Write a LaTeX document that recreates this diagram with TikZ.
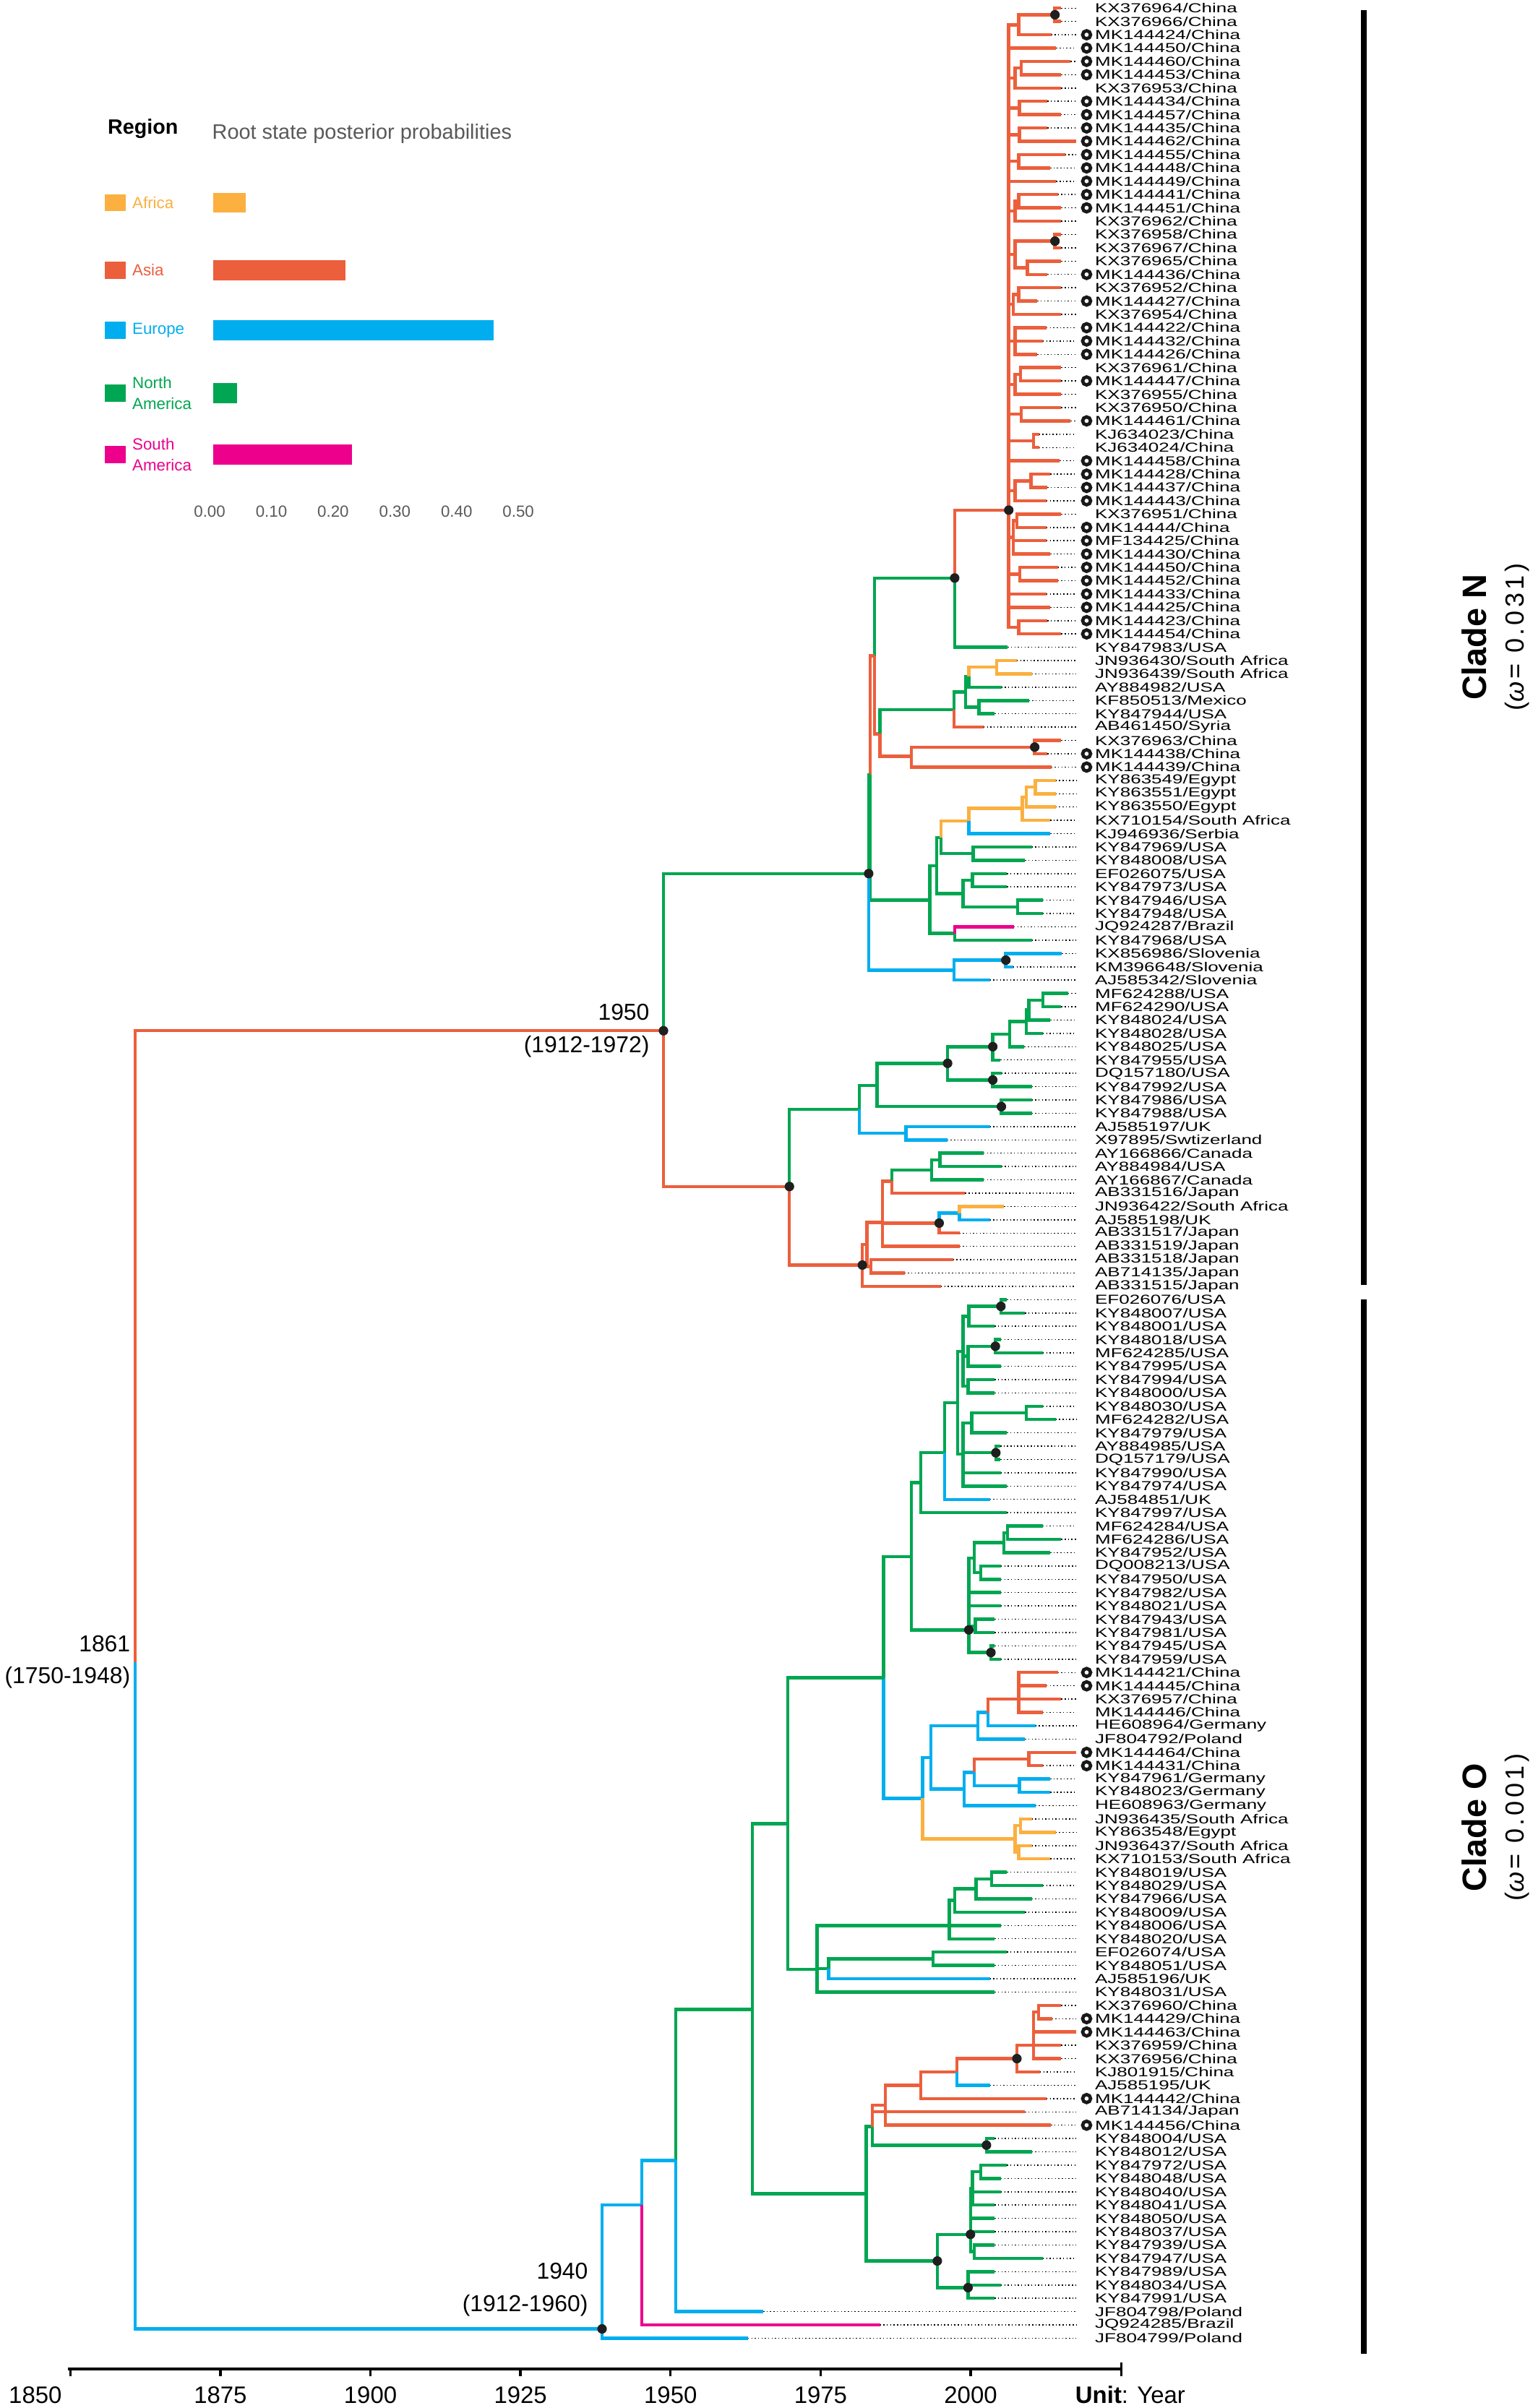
\documentclass[tikz,border=0pt]{standalone}
\usepackage{fontspec}
\usepackage{graphicx}
\setmainfont{Liberation Sans}
\usetikzlibrary{positioning}

\definecolor{asia}{RGB}{236,95,60}
\definecolor{namer}{RGB}{0,166,81}
\definecolor{europe}{RGB}{0,174,239}
\definecolor{africa}{RGB}{251,176,64}
\definecolor{samer}{RGB}{236,0,140}

\newcommand{\leaftext}[1]{\scalebox{1.44}[1]{#1}}

\tikzset{
  branch/.style={line width=2.1pt},
  leader/.style={line width=0.7pt, dash pattern=on 0.7pt off 1.5pt},
  nodedot/.style={circle, fill=black!88, inner sep=0pt, minimum size=6.2pt},
  ring/.style={circle, draw=black!90, fill=white, line width=2.2pt, inner sep=0pt, minimum size=5.2pt},
  leaflabel/.style={anchor=west, inner sep=0pt, font=\fontsize{8.5}{8.5}\selectfont},
  datelbl/.style={align=right, inner sep=0pt, font=\fontsize{15}{21}\selectfont},
  yearlbl/.style={inner sep=0pt, font=\fontsize{15.5}{18}\selectfont},
  omegalbl/.style={rotate=90, inner sep=0pt, font=\addfontfeature{LetterSpace=12}\fontsize{17}{19}\selectfont},
}

\begin{document}
\begin{tikzpicture}[x=1pt, y=-1pt]
\fill[white] (0,0) rectangle (1001,1568);
\useasboundingbox (0,0) rectangle (1001,1568);

% ---------- legend ----------
\node[anchor=west, inner sep=0pt, font=\bfseries\fontsize{13.5}{16}\selectfont] (regionTitle) at (70,84) {Region};
\node[anchor=west, inner sep=0pt, text=black!65, font=\fontsize{13.6}{15}\selectfont] (probTitle) at (138,87) {Root state posterior probabilities};
\foreach \yy/\col/\val/\txt in {132/africa/0.058/Africa, 176/asia/0.22/Asia, 215/europe/0.46/Europe,
    256/namer/0.044/North\\America, 296/samer/0.23/South\\America}{
  \fill[\col] (68,\yy-5.5) rectangle (82,\yy+5.5);
  \node[anchor=west, inner sep=0pt, text=\col, align=left, font=\fontsize{10.5}{14}\selectfont] at (86,\yy) {\txt};
  \fill[\col] (139,\yy-6.5) rectangle ({136.5+\val*402},\yy+6.5);
}
\foreach \v/\lab in {0/0.00, 1/0.10, 2/0.20, 3/0.30, 4/0.40, 5/0.50}
  \node[inner sep=0pt, text=black!65, font=\fontsize{10.5}{12}\selectfont] at ({136.5+\v*40.2},333) {\lab};

% ---------- tree ----------
\begin{scope}[y=-8.67pt, yshift=3.37pt]
% internal nodes (x, row)
\foreach \nm/\xx/\rw in {
  a/686.9/1.5, b/663.3/2.25, d/665/5.5, e/660.9/6.25, f/663.8/8.5, g/663.8/10.5,
  h/663.3/12.5, i/663.3/15.5, j/660.9/16.25, k1/686.9/18.5, k2/668.9/20.5, k/660.9/19.5,
  m1/663.3/22.5, m/659.7/23.25, n/660.9/26, o1/664.5/28.5, o/660.9/29.25, p/665/31.5,
  c33/673/33.5, q1/671.3/36.5, q/660.9/37.25, s1/662/39.5, s/659.7/40.75, c43/664/43.5,
  c47/663.3/47.5, As/656.8/38.7, N1/621.6/43.8, W/569.3/49.65, N3/572.9/55.5,
  Gn/621.1/53.7, g1/628.8/52.35, g2/630.8/51.2, g4/648.9/50.5, g3/637.5/53.5,
  Rd/593.4/57.2, rd1/673.7/56.5, Z/566.5/58.6, N2/565.6/66, G/605.4/68,
  V2/609.8/65.4, V1/612.7/63.3, O4/630.8/62.05, O3/665.7/61.1, O2/668.2/60.25,
  O1/674.2/59.5, v64/633.7/64.5, V3/627.1/67.5, v66/633.2/66.5, v68/662.6/68.5,
  V4/621.6/70.5, B/621.1/73.25, b72/654.9/72.5,
  n1950/432/77.8, N5/514/89.5, K1/559.6/83.7, K2/571/81.9, K3/617/80.25, K5/646.4/79,
  K7/657.3/78.05, K8/668.2/77.1, K8a/669.8/76.25, K8b/679/75.5, K6/646.4/81.5,
  K4/652/83.5, K9/589.8/85.5, R1/561.5/95.4, E0/564.4/93.85, E1/574.5/92.2,
  F1/580.6/89.1, F2/606.6/88.25, F3/612/87.5, D1/611.5/92.25, D2/624.7/91.5, R3/567/95.5,
  Pa/630.8/99.25, pa1/651.7/98.5, Pb/630.3/102.25, pb1/648.1/101.5, Pc/630.3/104.5,
  P1/627.1/101.9, Pd/632.7/107.25, pd1/668.2/106.5, Pe/648.4/109.5, P3/627.1/109.6,
  Q2/623.5/105.75, Q1/615.1/109.5, Q3/599.4/111.75, Q5/630.8/122.8, Q6/630.8/121.1,
  q117/634.4/117.4, q116/653.7/116.25, q115/656.1/115.5, q118/638.7/118.5,
  q122/635.1/122.5, q124/645.2/124.5, Q4/593.4/117.3, Q7/575.3/126.4,
  Bl/600.6/135.45, bl1/606.2/132.4, bl2/636.8/130, bl4/643.3/129, Rz/663.3/128,
  bl3/627.8/134.75, bl5/634.4/133.5, bl6/669.8/132.5, bl7/663.8/134.5,
  Or/660.9/138.5, or1/664.5/137.5, or2/663.3/139.5, Q8/513/137.35, T1/531.9/148.3,
  S2/618.2/145, S1/621.6/143.1, s142/635.6/142.25, s141/645.7/141.5,
  N92/539.6/148.25, n147/607.4/147.5, U7/564/165.15, U8/568/160.1, U6/568/158.75,
  U5/576.5/158.5, U4/599.4/157, U3/623/156, U2/662.1/155, U1/673/154, u151/676.1/151.5,
  u161/642.3/161.5, X0/610.3/170.2, X1/631.9/168.2, X3/633.2/164.75, x163/638.7/163.5,
  x169/634.4/169.5, X2/630.3/172.2, Q10/490/151.3, Q11/440/162.65, Q12/418/166,
  n1940/392/175.3, root/88/125.2}
  \coordinate (\nm) at (\xx,\rw);

% branches between internal nodes
\foreach \pa/\ch/\col in {
  root/n1950/asia, root/n1940/europe,
  b/a/asia, As/b/asia, As/e/asia, As/f/asia, As/g/asia, As/h/asia, As/j/asia, As/k/asia,
  As/m/asia, As/n/asia, As/o/asia, As/p/asia, As/c33/asia, As/q/asia, As/s/asia,
  As/c43/asia, As/c47/asia, e/d/asia, j/i/asia, k/k1/asia, k/k2/asia, m/m1/asia,
  o/o1/asia, q/q1/asia, s/s1/asia,
  N1/As/asia, W/N1/namer, W/N3/asia, N3/Gn/namer, N3/Rd/asia, Gn/g1/namer,
  g1/g2/namer, g1/g3/namer, g2/g4/africa, Rd/rd1/asia, Z/W/asia, Z/G/namer,
  N2/Z/namer, N2/B/europe, G/V2/namer, G/V4/namer, V2/V1/namer, V2/V3/namer,
  V1/O4/africa, V1/v64/namer, O4/O3/africa, O3/O2/africa, O2/O1/africa,
  V3/v66/namer, V3/v68/namer, B/b72/europe,
  n1950/N2/namer, n1950/N5/asia, N5/K1/namer, N5/R1/asia, K1/K2/namer, K1/K9/europe,
  K2/K3/namer, K2/K4/namer, K3/K5/namer, K3/K6/namer, K5/K7/namer, K7/K8/namer,
  K8/K8a/namer, K8a/K8b/namer, R1/E0/asia, E0/E1/asia, E0/R3/asia, E1/F1/asia,
  E1/D1/asia, F1/F2/namer, F2/F3/namer, D1/D2/europe,
  Pa/pa1/namer, Pb/pb1/namer, P1/Pa/namer, P1/Pb/namer, P1/Pc/namer, Pd/pd1/namer,
  P3/Pd/namer, P3/Pe/namer, Q2/P1/namer, Q2/P3/namer, Q1/Q2/namer, Q3/Q1/namer,
  Q4/Q3/namer, Q4/Q5/namer, Q5/Q6/namer, Q5/q124/namer, Q6/q117/namer, Q6/q122/namer,
  q117/q116/namer, q117/q118/namer, q116/q115/namer, Q7/Q4/namer, Q7/Bl/europe,
  Bl/bl1/europe, Bl/Or/africa, bl1/bl2/europe, bl1/bl3/europe, bl2/bl4/europe,
  bl4/Rz/asia, bl3/bl5/europe, bl5/bl6/asia, bl5/bl7/europe, Or/or1/africa,
  Or/or2/africa, Q8/Q7/namer, Q8/T1/namer, T1/S2/namer, T1/N92/namer, S2/S1/namer,
  S1/s142/namer, s142/s141/namer, N92/n147/namer, U7/U8/namer, U7/X0/namer,
  U8/U6/asia, U8/u161/namer, U6/U5/asia, U5/U4/asia, U4/U3/asia, U3/U2/asia,
  U2/U1/asia, U1/u151/asia, X0/X1/namer, X0/X2/namer, X1/X3/namer, X1/x169/namer,
  X3/x163/namer, Q10/Q8/namer, Q10/U7/namer, Q11/Q10/namer, Q12/Q11/europe,
  n1940/Q12/europe}
  \draw[branch, \col] (\pa) |- (\ch);

% tips: row / tip x / parent / colour / accession / country / marked
\foreach \rw/\tip/\pa/\col/\acc/\cty/\mk in {
  1/691/a/asia/KX376964/China/0, 2/691/a/asia/KX376966/China/0,
  3/684.5/b/asia/MK144424/China/1, 4/687.7/As/asia/MK144450/China/1,
  5/697.1/d/asia/MK144460/China/1, 6/691/d/asia/MK144453/China/1,
  7/691/e/asia/KX376953/China/0, 8/682/f/asia/MK144434/China/1,
  9/690.6/f/asia/MK144457/China/1, 10/682/g/asia/MK144435/China/1,
  11/700.7/g/asia/MK144462/China/1, 12/693.5/h/asia/MK144455/China/1,
  13/683.8/h/asia/MK144448/China/1, 14/687.7/As/asia/MK144449/China/1,
  15/688.7/i/asia/MK144441/China/1, 16/691/i/asia/MK144451/China/1,
  17/691/j/asia/KX376962/China/0, 18/691/k1/asia/KX376958/China/0,
  19/691/k1/asia/KX376967/China/0, 20/691/k2/asia/KX376965/China/0,
  21/682/k2/asia/MK144436/China/1, 22/691/m1/asia/KX376952/China/0,
  23/675.4/m1/asia/MK144427/China/1, 24/691/m/asia/KX376954/China/0,
  25/681.4/n/asia/MK144422/China/1, 26/679/n/asia/MK144432/China/1,
  27/675.4/n/asia/MK144426/China/1, 28/691/o1/asia/KX376961/China/0,
  29/691/o1/asia/MK144447/China/1, 30/691/o/asia/KX376955/China/0,
  31/691/p/asia/KX376950/China/0, 32/697.1/p/asia/MK144461/China/1,
  33/676.6/c33/asia/KJ634023/China/0, 34/676.6/c33/asia/KJ634024/China/0,
  35/689.9/As/asia/MK144458/China/1, 36/683.8/q1/asia/MK144428/China/1,
  37/682/q1/asia/MK144437/China/1, 38/681.4/q/asia/MK144443/China/1,
  39/691/s1/asia/KX376951/China/0, 40/681.4/s1/asia/MK14444/China/1,
  41/681.4/s/asia/MF134425/China/1, 42/683.8/s/asia/MK144430/China/1,
  43/688.7/c43/asia/MK144450/China/1, 44/688.7/c43/asia/MK144452/China/1,
  45/681.4/As/asia/MK144433/China/1, 46/683.8/As/asia/MK144425/China/1,
  47/682/c47/asia/MK144423/China/1, 48/691/c47/asia/MK144454/China/1,
  49/656.1/N1/namer/KY847983/USA/0, 50/662.1/g4/africa/JN936430/South Africa/0,
  51/671.8/g4/africa/JN936439/South Africa/0, 52/652/g2/namer/AY884982/USA/0,
  53/669.9/g3/namer/KF850513/Mexico/0, 54/647.6/g3/namer/KY847944/USA/0,
  55/640.4/Gn/asia/AB461450/Syria/0, 56/691/rd1/asia/KX376963/China/0,
  57/682/rd1/asia/MK144438/China/1, 58/684.5/Rd/asia/MK144439/China/1,
  59/687.4/O1/africa/KY863549/Egypt/0, 60/687.4/O1/africa/KY863551/Egypt/0,
  61/687.4/O2/africa/KY863550/Egypt/0, 62/683.8/O3/africa/KX710154/South Africa/0,
  63/683.8/O4/europe/KJ946936/Serbia/0, 64/671.8/v64/namer/KY847969/USA/0,
  65/667.4/v64/namer/KY848008/USA/0, 66/655.6/v66/namer/EF026075/USA/0,
  67/655.6/v66/namer/KY847973/USA/0, 68/679/v68/namer/KY847946/USA/0,
  69/679/v68/namer/KY847948/USA/0, 70/660.2/V4/samer/JQ924287/Brazil/0,
  71/671.8/V4/namer/KY847968/USA/0, 72/691.5/b72/europe/KX856986/Slovenia/0,
  73/659.7/b72/europe/KM396648/Slovenia/0, 74/644.5/B/europe/AJ585342/Slovenia/0,
  75/695.4/K8b/namer/MF624288/USA/0, 76/691/K8b/namer/MF624290/USA/0,
  77/683.8/K8a/namer/KY848024/USA/0, 78/679/K8/namer/KY848028/USA/0,
  79/667/K7/namer/KY848025/USA/0, 80/651.3/K5/namer/KY847955/USA/0,
  81/652/K6/namer/DQ157180/USA/0, 82/671.8/K6/namer/KY847992/USA/0,
  83/671.8/K4/namer/KY847986/USA/0, 84/671.8/K4/namer/KY847988/USA/0,
  85/644.5/K9/europe/AJ585197/UK/0, 86/616.8/K9/europe/X97895/Swtizerland/0,
  87/640.4/F3/namer/AY166866/Canada/0, 88/652/F3/namer/AY884984/USA/0,
  89/640.4/F2/namer/AY166867/Canada/0, 90/628.4/F1/asia/AB331516/Japan/0,
  91/653.7/D2/africa/JN936422/South Africa/0, 92/644.5/D2/europe/AJ585198/UK/0,
  93/624.7/D1/asia/AB331517/Japan/0, 94/624.7/E1/asia/AB331519/Japan/0,
  95/620.6/R3/asia/AB331518/Japan/0, 96/589/R3/asia/AB714135/Japan/0,
  97/612.7/R1/asia/AB331515/Japan/0,
  98/655.6/pa1/namer/EF026076/USA/0, 99/667.4/pa1/namer/KY848007/USA/0,
  100/647.6/Pa/namer/KY848001/USA/0, 101/651.7/pb1/namer/KY848018/USA/0,
  102/679/pb1/namer/MF624285/USA/0, 103/651.7/Pb/namer/KY847995/USA/0,
  104/647.6/Pc/namer/KY847994/USA/0, 105/647.6/Pc/namer/KY848000/USA/0,
  106/679/pd1/namer/KY848030/USA/0, 107/687.4/pd1/namer/MF624282/USA/0,
  108/655.6/Pd/namer/KY847979/USA/0, 109/651.3/Pe/namer/AY884985/USA/0,
  110/651.3/Pe/namer/DQ157179/USA/0, 111/651.7/P3/namer/KY847990/USA/0,
  112/655.6/P3/namer/KY847974/USA/0, 113/644.5/Q1/europe/AJ584851/UK/0,
  114/655.6/Q3/namer/KY847997/USA/0, 115/679/q115/namer/MF624284/USA/0,
  116/691/q115/namer/MF624286/USA/0, 117/683.8/q116/namer/KY847952/USA/0,
  118/651.7/q118/namer/DQ008213/USA/0, 119/651.7/q118/namer/KY847950/USA/0,
  120/651.7/Q6/namer/KY847982/USA/0, 121/651.7/Q6/namer/KY848021/USA/0,
  122/647.6/q122/namer/KY847943/USA/0, 123/647.6/q122/namer/KY847981/USA/0,
  124/647.6/q124/namer/KY847945/USA/0, 125/651.7/q124/namer/KY847959/USA/0,
  126/688.7/Rz/asia/MK144421/China/1, 127/681.4/Rz/asia/MK144445/China/1,
  128/691/Rz/asia/KX376957/China/0, 129/679/Rz/asia/MK144446/China/0,
  130/674.2/bl4/europe/HE608964/Germany/0, 131/667.4/bl2/europe/JF804792/Poland/0,
  132/700.7/bl6/asia/MK144464/China/1, 133/679/bl6/asia/MK144431/China/1,
  134/683.8/bl7/europe/KY847961/Germany/0, 135/683.8/bl7/europe/KY848023/Germany/0,
  136/674.2/bl3/europe/HE608963/Germany/0, 137/671.8/or1/africa/JN936435/South Africa/0,
  138/687.4/or1/africa/KY863548/Egypt/0, 139/671.8/or2/africa/JN936437/South Africa/0,
  140/683.8/or2/africa/KX710153/South Africa/0, 141/655.6/s141/namer/KY848019/USA/0,
  142/679/s141/namer/KY848029/USA/0, 143/671.8/s142/namer/KY847966/USA/0,
  144/667.4/S1/namer/KY848009/USA/0, 145/651.7/S2/namer/KY848006/USA/0,
  146/647.6/S2/namer/KY848020/USA/0, 147/655.6/n147/namer/EF026074/USA/0,
  148/647.6/n147/namer/KY848051/USA/0, 149/644.5/N92/europe/AJ585196/UK/0,
  150/647.6/T1/namer/KY848031/USA/0, 151/691/u151/asia/KX376960/China/0,
  152/685/u151/asia/MK144429/China/1, 153/700.7/U1/asia/MK144463/China/1,
  154/691/U1/asia/KX376959/China/0, 155/691/U1/asia/KX376956/China/0,
  156/677.1/U2/asia/KJ801915/China/0, 157/644.5/U3/europe/AJ585195/UK/0,
  158/681.4/U4/asia/MK144442/China/1, 159/667.4/U6/asia/AB714134/Japan/0,
  160/684.3/U5/asia/MK144456/China/1, 161/647.6/u161/namer/KY848004/USA/0,
  162/671.8/u161/namer/KY848012/USA/0, 163/655.6/x163/namer/KY847972/USA/0,
  164/651.7/x163/namer/KY848048/USA/0, 165/651.7/X3/namer/KY848040/USA/0,
  166/647.6/X3/namer/KY848041/USA/0, 167/647.6/X1/namer/KY848050/USA/0,
  168/647.6/X1/namer/KY848037/USA/0, 169/647.6/x169/namer/KY847939/USA/0,
  170/679/x169/namer/KY847947/USA/0, 171/647.6/X2/namer/KY847989/USA/0,
  172/651.7/X2/namer/KY848034/USA/0, 173/647.6/X2/namer/KY847991/USA/0,
  174/497/Q11/europe/JF804798/Poland/0, 175/573/Q12/samer/JQ924285/Brazil/0,
  176/487/n1940/europe/JF804799/Poland/0}{
  \coordinate (t\rw) at (\tip,\rw);
  \coordinate (e\rw) at (700.7,\rw);
  \draw[branch, \col] (\pa) |- (t\rw);
  \draw[leader] (t\rw) -- (e\rw);
  \node[leaflabel] (lab\rw) at (712.8,\rw) {\leaftext{\acc/\cty}};
  \ifnum\mk=1 \node[ring] at (707.5,\rw) {};\fi
}

% well supported nodes
\foreach \nm in {a, As, k1, N1, rd1, b72, N2, n1950, N5, K3, K5, K6, K4, R1, D1,
  pa1, pb1, Pe, Q5, q124, U2, u161, X0, X1, X2, n1940}
  \node[nodedot] at (\nm) {};
\end{scope}

% node ages
\node[datelbl, left=9pt of n1950] {1950\\(1912-1972)};
\node[datelbl, above left=8pt and 9pt of n1940] {1940\\(1912-1960)};
\node[datelbl, left=3pt of root] {1861\\(1750-1948)};

% clade bars
\draw[line width=3.6pt] (888,6.6) coordinate (nTop) -- (888,836.8) coordinate (nBot);
\draw[line width=3.6pt] (888,846.2) coordinate (oTop) -- (888,1532.5) coordinate (oBot);
\node[rotate=90, inner sep=0pt, font=\bfseries\fontsize{22}{26}\selectfont] (cladeN) at (960,415) {Clade N};
\node[omegalbl] (omegaN) at (988,415) {(\textit{ω}= 0.031)};
\node[rotate=90, inner sep=0pt, font=\bfseries\fontsize{22}{26}\selectfont] (cladeO) at (960,1190) {Clade O};
\node[omegalbl] (omegaO) at (988,1190) {(\textit{ω}= 0.001)};

% time axis
\draw[line width=1.9pt] (44,1542.4) coordinate (axL) -- (730,1542.4) coordinate (axR);
\foreach \yr in {1875,1900,...,2000}{
  \draw[line width=1.6pt] ({45.8+(\yr-1850)*3.908},1542.4) -- ++(0,5);
  \node[yearlbl] at ({45.8+(\yr-1850)*3.908},1559.5) {\yr};
}
\draw[line width=1.6pt] (axL) ++(1.8,0) -- ++(0,5);
\node[yearlbl] at (23,1559.5) {1850};
\draw[line width=1.6pt] (axR) ++(0,-4) -- ++(0,9);
\node[yearlbl, anchor=west] (unit) at (700,1559.5) {\textbf{Unit}: Year};
\end{tikzpicture}
\end{document}
